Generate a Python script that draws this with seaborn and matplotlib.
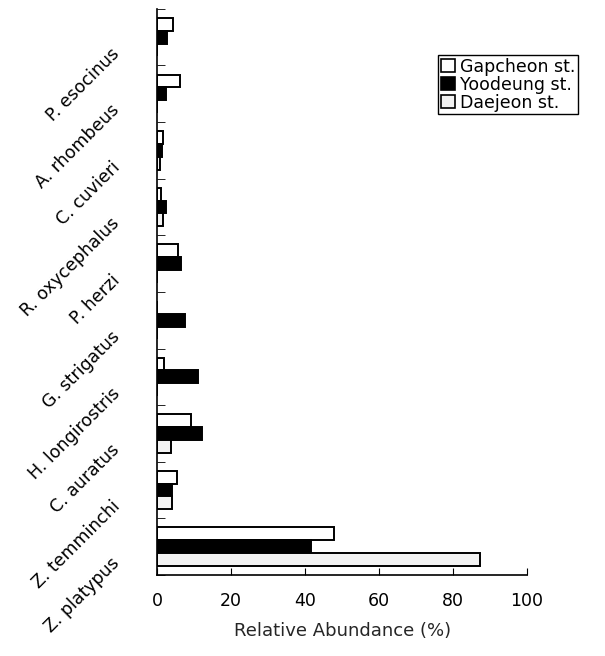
import numpy as np
import pandas as pd
import seaborn as sns
import matplotlib.pyplot as plt

species = ['P. esocinus', 'A. rhombeus', 'C. cuvieri', 'R. oxycephalus', 'P. herzi',
           'G. strigatus', 'H. longirostris', 'C. auratus', 'Z. temminchi', 'Z. platypus']
stations = ['Gapcheon st.', 'Yoodeung st.', 'Daejeon st.']
gapcheon = [4.3, 6.2, 1.5, 1.0, 5.7, 0.0, 1.7, 9.2, 5.2, 47.8]
yoodeung = [2.7, 2.4, 1.2, 2.4, 6.5, 7.5, 11.1, 12.2, 4.1, 41.5]
daejeon = [0.0, 0.0, 0.8, 1.6, 0.0, 0.0, 0.0, 3.7, 4.0, 87.2]
xticks = [0, 20, 40, 60, 80, 100]

df = pd.DataFrame({
    'species': species * 3,
    'station': np.repeat(stations, len(species)),
    'abundance': gapcheon + yoodeung + daejeon,
})

sns.set_style('ticks', {'axes.edgecolor': 'black', 'text.color': 'black',
                        'xtick.color': 'black', 'ytick.color': 'black'})
plt.rcParams['font.family'] = ['DejaVu Sans']

fig = plt.figure(figsize=(6.05, 6.56), dpi=100)
ax = fig.add_axes([0.26, 0.1235, 0.611, 0.863])

palette = {'Gapcheon st.': 'white', 'Yoodeung st.': 'black', 'Daejeon st.': '#f3f3f3'}
sns.barplot(data=df, y='species', x='abundance', hue='station', order=species,
            hue_order=stations, palette=palette, orient='h', width=0.68,
            edgecolor='black', linewidth=1.4, legend=False, ax=ax)

ax.set_xlim(0, 100)
ax.set_ylim(len(species) - 0.5, -0.5)
ax.set_xticks(xticks)
ax.set_xticklabels([str(t) for t in xticks], fontsize=12.5)
ax.tick_params(axis='x', direction='in', length=5, pad=12)

# labels sit a little below the group centres, as in the original
ax.set_yticks(np.arange(len(species)) + 0.22)
ax.set_yticklabels(species, rotation=45, ha='right', rotation_mode='anchor', fontsize=12.5)
ax.tick_params(axis='y', which='major', length=0, pad=30)
ax.set_yticks(np.arange(-0.5, len(species), 1.0), minor=True)
ax.tick_params(axis='y', which='minor', direction='in', length=6)

ax.set_xlabel('Relative Abundance (%)', fontsize=13, labelpad=9)
ax.set_ylabel('')
for side in ['top', 'right']:
    ax.spines[side].set_visible(False)
for side in ['left', 'bottom']:
    ax.spines[side].set_linewidth(1.2)

handles = [plt.Rectangle((0, 0), 1, 1, facecolor=palette[s], edgecolor='black', linewidth=1.2)
           for s in stations]
leg = fig.legend(handles, stations, loc='upper right', bbox_to_anchor=(0.955, 0.916),
                 fontsize=12.5, handlelength=0.8, handleheight=0.8, handletextpad=0.3,
                 labelspacing=0.0, borderpad=0.15, borderaxespad=0, fancybox=False,
                 framealpha=1)
leg.get_frame().set_edgecolor('black')
leg.get_frame().set_linewidth(1.0)

fig.savefig('out.png', dpi=100)
